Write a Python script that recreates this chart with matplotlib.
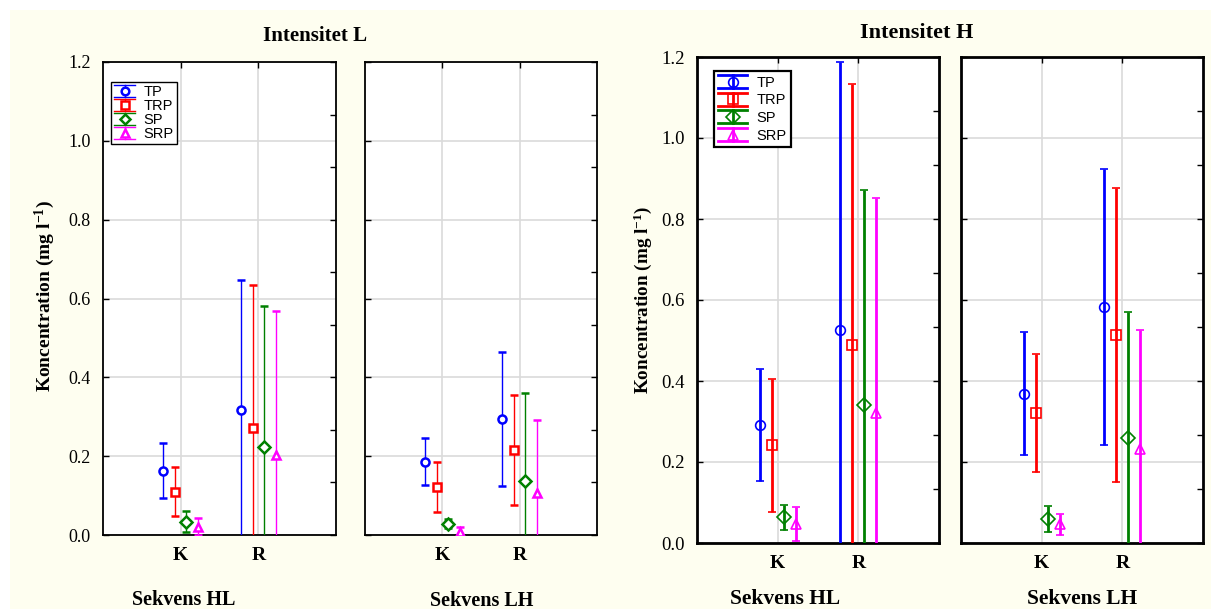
import numpy as np
import matplotlib
matplotlib.use("Agg")
import matplotlib.pyplot as plt
from matplotlib.lines import Line2D
from matplotlib.patches import Rectangle
from matplotlib.legend_handler import HandlerBase
from matplotlib.ticker import FixedLocator

# ---------------- data ----------------
categories = ["K", "R"]
series = ["TP", "TRP", "SP", "SRP"]

# Intensitet L, Sekvens HL  (rows = series, cols = categories)
l_hl_mean = [[0.163, 0.317], [0.110, 0.272], [0.034, 0.223], [0.021, 0.203]]
l_hl_err = [[0.070, 0.330], [0.063, 0.362], [0.026, 0.358], [0.021, 0.365]]
# Intensitet L, Sekvens LH
l_lh_mean = [[0.186, 0.294], [0.122, 0.215], [0.029, 0.138], [0.008, 0.106]]
l_lh_err = [[0.060, 0.170], [0.063, 0.140], [0.011, 0.221], [0.012, 0.185]]
# Intensitet H, Sekvens HL
h_hl_mean = [[0.291, 0.525], [0.241, 0.489], [0.063, 0.340], [0.047, 0.322]]
h_hl_err = [[0.138, 0.663], [0.165, 0.644], [0.032, 0.532], [0.042, 0.531]]
# Intensitet H, Sekvens LH
h_lh_mean = [[0.369, 0.583], [0.321, 0.514], [0.059, 0.259], [0.046, 0.231]]
h_lh_err = [[0.152, 0.341], [0.145, 0.363], [0.032, 0.312], [0.026, 0.295]]

ytick_vals = [0.0, 0.2, 0.4, 0.6, 0.8, 1.0, 1.2]
ytick_labels = ["0.0", "0.2", "0.4", "0.6", "0.8", "1.0", "1.2"]

# ---------------- style ----------------
colors = ["#0000ff", "#ff0000", "#008000", "#ff00ff"]
markers = ["o", "s", "D", "^"]
offsets = [-0.225, -0.075, 0.075, 0.225]
cream = "#fefef0"
grid_c = "#dadada"

plt.rcParams["font.family"] = ["Liberation Serif", "DejaVu Serif"]
plt.rcParams["mathtext.fontset"] = "custom"
plt.rcParams["mathtext.rm"] = "Liberation Serif:bold"
plt.rcParams["mathtext.bf"] = "Liberation Serif:bold"
plt.rcParams["mathtext.default"] = "bf"

W, H = 1211, 609
fig = plt.figure(figsize=(W / 100, H / 100), dpi=100, facecolor="white")
fig.patches.append(Rectangle((10 / W, 0), 1, (H - 10) / H, transform=fig.transFigure,
                             facecolor=cream, edgecolor="none", zorder=-10))


def px_ax(x0, y0, x1, y1):
    return fig.add_axes([x0 / W, (H - y1) / H, (x1 - x0) / W, (y1 - y0) / H])


class ErrHandler(HandlerBase):
    def __init__(self, mfc, ms, mew, lw):
        super().__init__()
        self.mfc, self.ms, self.mew, self.lw = mfc, ms, mew, lw

    def create_artists(self, legend, orig, xd, yd, width, height, fontsize, trans):
        c = orig.get_color()
        m = orig.get_marker()
        x0, x1 = -xd, -xd + width
        y0, y1 = -yd, -yd + height
        xm, ym = (x0 + x1) / 2, (y0 + y1) / 2
        arts = [
            Line2D([x0, x1], [y1, y1], color=c, lw=self.lw),
            Line2D([x0, x1], [y0, y0], color=c, lw=self.lw),
            Line2D([xm, xm], [y0, y1], color=c, lw=self.lw),
            Line2D([xm], [ym], marker=m, color=c, ms=self.ms, mew=self.mew,
                   mfc=self.mfc, ls="none"),
        ]
        for a in arts:
            a.set_transform(trans)
        return arts


def panel(ax, means, errs, show_y, lw, cap, ms, mew, mfc, spine_lw, ylab_size):
    x = np.arange(1, len(categories) + 1)
    for i in range(len(series)):
        ax.errorbar(x + offsets[i], means[i], yerr=errs[i], fmt=markers[i], color=colors[i],
                    ecolor=colors[i], elinewidth=lw, capsize=cap, capthick=lw,
                    ms=ms, mew=mew, mfc=mfc, zorder=3)
    ax.set_xlim(0, 3)
    ax.set_ylim(0, 1.2)
    ax.set_xticks(x)
    ax.set_xticklabels(categories, fontsize=14, fontweight="bold")
    ax.set_yticks(ytick_vals)
    if show_y:
        ax.set_yticklabels(ytick_labels, fontsize=ylab_size)
    else:
        ax.set_yticklabels([])
    ax.yaxis.set_minor_locator(FixedLocator(np.linspace(0, 1.2, 10)))
    ax.yaxis.remove_overlapping_locs = False
    ax.tick_params(axis="y", which="major", direction="in", length=4, left=True, right=False,
                   width=1, pad=9)
    ax.tick_params(axis="y", which="minor", direction="in", length=4, left=False, right=True,
                   width=1)
    ax.tick_params(axis="x", which="major", direction="in", length=4, top=True, bottom=False,
                   width=1, pad=9)
    ax.grid(True, color=grid_c, lw=1.2, zorder=0)
    ax.set_axisbelow(True)
    for s in ax.spines.values():
        s.set_linewidth(spine_lw)
        s.set_color("black")
    ax.set_facecolor("white")


# left figure (Intensitet L)
axL1 = px_ax(103, 62, 336, 535)
axL2 = px_ax(365, 62, 597, 535)
panel(axL1, l_hl_mean, l_hl_err, True, 1.0, 2.6, 5.8, 1.8, "white", 1.3, 13)
panel(axL2, l_lh_mean, l_lh_err, False, 1.0, 2.6, 5.8, 1.8, "white", 1.3, 13)

# right figure (Intensitet H)
axH1 = px_ax(697, 57, 939, 543)
axH2 = px_ax(961, 57, 1203, 543)
panel(axH1, h_hl_mean, h_hl_err, True, 2.0, 3.2, 7.0, 1.2, "none", 2.0, 13.5)
panel(axH2, h_lh_mean, h_lh_err, False, 2.0, 3.2, 7.0, 1.2, "none", 2.0, 13.5)

# legends
proxies = [Line2D([], [], color=colors[i], marker=markers[i], ls="none") for i in range(4)]
hL = ErrHandler("white", 5.5, 1.8, 1.0)
axL1.legend(proxies, series, loc="upper left", bbox_to_anchor=(0.033, 0.958),
            borderaxespad=0, prop={"family": "Liberation Sans", "size": 10.5},
            handler_map={p: hL for p in proxies}, handlelength=1.5, handleheight=0.9,
            labelspacing=0.0, handletextpad=0.55, borderpad=0.2, fancybox=False,
            edgecolor="black", framealpha=1).get_frame().set_linewidth(1.0)
hH = ErrHandler("none", 7.0, 1.2, 2.0)
axH1.legend(proxies, series, loc="upper left", bbox_to_anchor=(0.07, 0.972),
            borderaxespad=0, prop={"family": "Liberation Sans", "size": 10.5},
            handler_map={p: hH for p in proxies}, handlelength=2.0, handleheight=1.0,
            labelspacing=0.22, handletextpad=0.6, borderpad=0.3, fancybox=False,
            edgecolor="black", framealpha=1).get_frame().set_linewidth(1.6)

# titles and labels
def ftext(x, y, s, va="center", **kw):
    fig.text(x / W, 1 - y / H, s, ha="center", va=va, **kw)

ftext(315, 36, "Intensitet L", fontsize=15, fontweight="bold")
ftext(917, 33, "Intensitet H", fontsize=16, fontweight="bold")
ftext(184, 600, "Sekvens HL", fontsize=14.5, fontweight="bold")
ftext(482, 601, "Sekvens LH", fontsize=14.5, fontweight="bold")
ftext(785, 604, "Sekvens HL", va="baseline", fontsize=15.5, fontweight="bold")
ftext(1082, 604, "Sekvens LH", va="baseline", fontsize=15.5, fontweight="bold")
ylab = "Koncentration (mg l$^{-1}$)"
ftext(45, 296, ylab, fontsize=14, fontweight="bold", rotation=90)
ftext(643, 300, ylab, fontsize=13.8, fontweight="bold", rotation=90)

fig.savefig("out.png", dpi=100, facecolor="white")
